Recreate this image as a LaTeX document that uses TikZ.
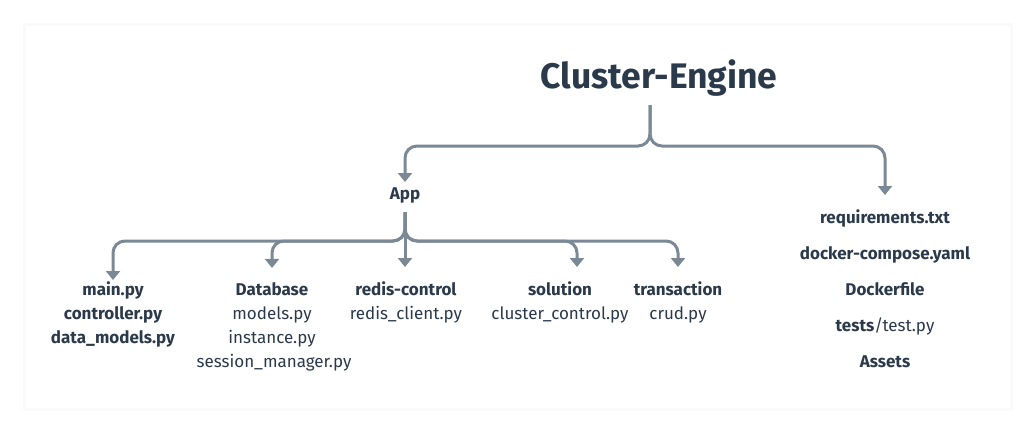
\documentclass[tikz,border=0pt]{standalone}
\usepackage{fontspec}
\setmainfont{Fira Sans}
\usetikzlibrary{arrows.meta}
\definecolor{ink}{HTML}{2B3A4A}
\definecolor{wire}{HTML}{7B8997}

\begin{document}
\begin{tikzpicture}[x=1pt,y=-1pt,
  conn/.style={draw=wire,line width=3pt,rounded corners=12pt,-{Triangle[width=14pt,length=9pt]}},
  lbl/.style={text=ink,font=\fontsize{17}{20}\selectfont\bfseries,inner sep=0pt,anchor=base},
  file/.style={text=ink,font=\fontsize{17}{20}\selectfont,inner sep=0pt,anchor=base}]
\useasboundingbox (0,0) rectangle (1034,434);
% card
\fill[black!2] (23,23) rectangle (1013,411);
\fill[white] (26,26) rectangle (1010,408);
\node[lbl,font=\fontsize{35.5}{42}\selectfont\bfseries] (eng) at (659,88) {Cluster-Engine};
\node[lbl] (app) at (405,199) {App};
% app contents
\node[lbl] (main) at (113,295) {main.py};
\node[lbl] (ctrl) at (113,319) {controller.py};
\node[lbl] (dm) at (113,343) {data\_models.py};
\node[lbl] (db) at (272,295) {Database};
\node[file] (mdl) at (272,319) {models.py};
\node[file] (inst) at (272,343) {instance.py};
\node[file] (sess) at (274,367) {session\_manager.py};
\node[lbl] (redis) at (406,295) {redis-control};
\node[file] (rcl) at (406,319) {redis\_client.py};
\node[lbl] (sol) at (560,295) {solution};
\node[file] (cc) at (560,319) {cluster\_control.py};
\node[lbl] (tr) at (678,295) {transaction};
\node[file] (crud) at (678,319) {crud.py};
% top level files
\node[lbl] (req) at (885,223) {requirements.txt};
\node[lbl] (dc) at (885,259) {docker-compose.yaml};
\node[lbl] (dkf) at (885,295) {Dockerfile};
\node[lbl] (tst) at (885,331) {tests\textmd{/test.py}};
\node[lbl] (ast) at (885,367) {Assets};
\coordinate (engfoot) at (650,105);
\coordinate (appfoot) at (405,212);
\draw[conn,shorten >=5pt] (engfoot) -- (engfoot |- 0,146) -- (app.north |- 0,146) -- (app.north);
\draw[conn,shorten >=14pt] (engfoot) -- (engfoot |- 0,146) -- (req.north |- 0,146) -- (req.north);
\draw[conn,shorten >=1pt] (appfoot) -- (appfoot |- 0,241) -- (main.north |- 0,241) -- (main.north);
\draw[conn,shorten >=14pt] (appfoot) -- (appfoot |- 0,241) -- (db.north |- 0,241) -- (db.north);
\draw[conn,shorten >=14pt] (appfoot) -- (appfoot |- redis.north);
\draw[conn,shorten >=14pt] (appfoot) -- (appfoot |- 0,241) -- ([xshift=17pt]sol.north |- 0,241) -- ([xshift=17pt]sol.north);
\draw[conn,shorten >=14pt] (appfoot) -- (appfoot |- 0,241) -- (tr.north |- 0,241) -- (tr.north);
\end{tikzpicture}
\end{document}
